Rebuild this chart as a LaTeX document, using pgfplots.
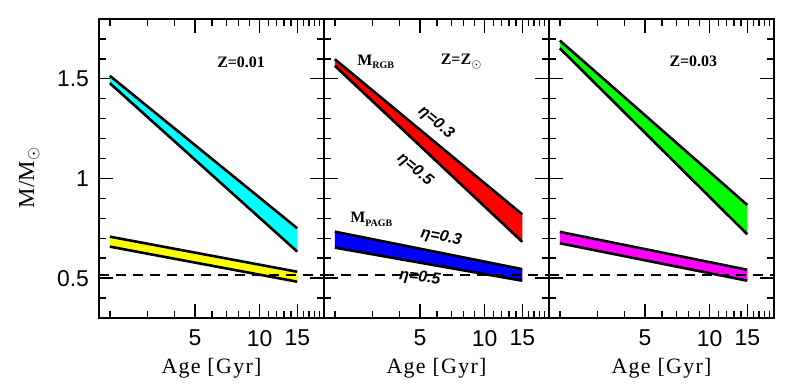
\documentclass[border=0pt]{standalone}
\usepackage{pgfplots}
\pgfplotsset{compat=1.18}
\usepackage{fontspec}
\setmainfont{Liberation Serif}
\setsansfont{Liberation Sans}
\newfontfamily\tickfont{Liberation Sans}
\newfontfamily\labfont[LetterSpace=6]{Liberation Serif}
\definecolor{cCyan}{rgb}{0,1,1}
\definecolor{cYellow}{rgb}{1,1,0}
\definecolor{cRed}{rgb}{1,0,0}
\definecolor{cBlue}{rgb}{0,0,1}
\definecolor{cGreen}{rgb}{0,1,0}
\definecolor{cMagenta}{rgb}{1,0,1}
\newcommand\zfont{\fontsize{8}{9}\selectfont\bfseries}
\newcommand\efont{\fontsize{8}{9}\selectfont\sffamily\bfseries\itshape}
\pgfplotsset{
  mypanel/.style={
    xmin=1.78, xmax=20, ymin=0.3, ymax=1.8,
    width=112.5bp, height=149.5bp, scale only axis, anchor=south west,
    xtick={5,10,15}, xticklabels={5,10,15},
    minor xtick={2,3,4,6,7,8,9,11,12,13,14,16,17,18,19,20},
    ytick={0.5,1,1.5},
    minor ytick={0.3,0.4,0.6,0.7,0.8,0.9,1.1,1.2,1.3,1.4,1.6,1.7},
    tick align=inside, major tick length=7bp, minor tick length=3.5bp,
    axis line style={line width=0.9bp},
    every tick/.style={black, line width=0.7bp},
    tick label style={font=\fontsize{11.5}{13}\selectfont\tickfont},
    /pgf/number format/assume math mode=true,
    xticklabel style={yshift=-2.5bp},
    yticklabel style={xshift=-1.5bp},
    xlabel={\labfont\fontsize{11}{13}\selectfont Age [Gyr]},
    xlabel style={at={(axis description cs:0.5,0)}, anchor=center, yshift=-25bp},
    clip=false,
  },
}
\begin{document}
\begin{tikzpicture}
\path[use as bounding box] (0,0) rectangle (400bp,193bp);
% Panel 1
\begin{semilogxaxis}[mypanel, at={(49.5bp,34bp)},
  ylabel={\fontsize{11.5}{13}\selectfont M/M$_\odot$},
  ylabel style={at={(axis description cs:-0.31,0.47)}, anchor=center}]
\addplot[draw=none, fill=cCyan] coordinates {(2,1.515)(15,0.750)(15,0.633)(2,1.478)} -- cycle;
\addplot[black, line width=1.3bp] coordinates {(2,1.515)(15,0.750)};
\addplot[black, line width=1.3bp] coordinates {(2,1.478)(15,0.633)};
\addplot[draw=none, fill=cYellow] coordinates {(2,0.708)(15,0.532)(15,0.482)(2,0.658)} -- cycle;
\addplot[black, line width=1.3bp] coordinates {(2,0.708)(15,0.532)};
\addplot[black, line width=1.3bp] coordinates {(2,0.658)(15,0.482)};
\addplot[black, line width=1bp, dash pattern=on 5bp off 3.5bp] coordinates {(1.78,0.518)(20,0.518)};
\node[font=\zfont] at (axis cs:8.2,1.585) {Z=0.01};
\end{semilogxaxis}
% Panel 2
\begin{semilogxaxis}[mypanel, at={(162bp,34bp)}, yticklabels={}]
\addplot[draw=none, fill=cRed] coordinates {(2,1.598)(15,0.820)(15,0.682)(2,1.565)} -- cycle;
\addplot[black, line width=1.3bp] coordinates {(2,1.598)(15,0.820)};
\addplot[black, line width=1.3bp] coordinates {(2,1.565)(15,0.682)};
\addplot[draw=none, fill=cBlue] coordinates {(2,0.733)(15,0.545)(15,0.487)(2,0.653)} -- cycle;
\addplot[black, line width=1.3bp] coordinates {(2,0.733)(15,0.545)};
\addplot[black, line width=1.3bp] coordinates {(2,0.653)(15,0.487)};
\addplot[black, line width=1bp, dash pattern=on 5bp off 3.5bp] coordinates {(1.78,0.518)(20,0.518)};
\node[font=\zfont] at (axis cs:3.1,1.585) {M\raisebox{-0.45ex}{\fontsize{5}{6}\selectfont RGB}};
\node[font=\zfont] at (axis cs:7.8,1.585) {Z=Z\raisebox{-0.45ex}{$\scriptscriptstyle\odot$}};
\node[font=\efont, rotate=-40] at (axis cs:5.93,1.28) {η=0.3};
\node[font=\efont, rotate=-40] at (axis cs:4.73,1.045) {η=0.5};
\node[font=\zfont] at (axis cs:2.96,0.795) {M\raisebox{-0.45ex}{\fontsize{5}{6}\selectfont PAGB}};
\node[font=\efont, rotate=-11] at (axis cs:6.27,0.705) {η=0.3};
\node[font=\efont, rotate=-6] at (axis cs:4.99,0.50) {η=0.5};
\end{semilogxaxis}
% Panel 3
\begin{semilogxaxis}[mypanel, at={(274.5bp,34bp)}, yticklabels={}]
\addplot[draw=none, fill=cGreen] coordinates {(2,1.692)(15,0.867)(15,0.720)(2,1.653)} -- cycle;
\addplot[black, line width=1.3bp] coordinates {(2,1.692)(15,0.867)};
\addplot[black, line width=1.3bp] coordinates {(2,1.653)(15,0.720)};
\addplot[draw=none, fill=cMagenta] coordinates {(2,0.732)(15,0.542)(15,0.487)(2,0.675)} -- cycle;
\addplot[black, line width=1.3bp] coordinates {(2,0.732)(15,0.542)};
\addplot[black, line width=1.3bp] coordinates {(2,0.675)(15,0.487)};
\addplot[black, line width=1bp, dash pattern=on 5bp off 3.5bp] coordinates {(1.78,0.518)(20,0.518)};
\node[font=\zfont] at (axis cs:8.4,1.59) {Z=0.03};
\end{semilogxaxis}
\end{tikzpicture}
\end{document}
